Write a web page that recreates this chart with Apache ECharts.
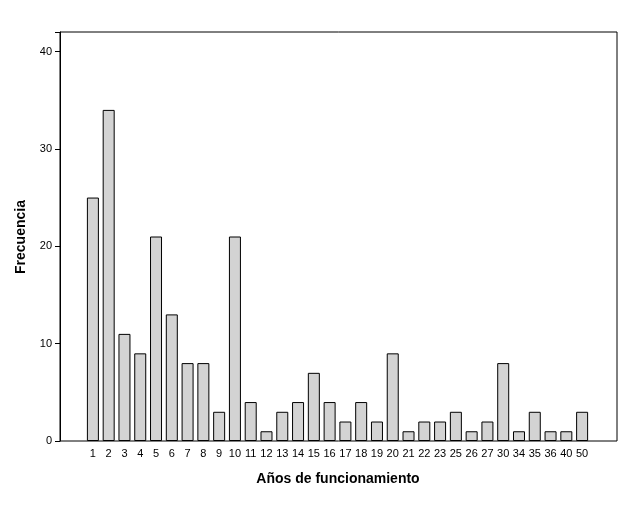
<!DOCTYPE html><html><head><meta charset="utf-8">
<script src="https://cdn.jsdelivr.net/npm/echarts@6/dist/echarts.min.js"></script>
<style>body{margin:0;background:#fff}#c{width:625px;height:526px}</style></head><body><div id="c"></div>
<script>
const categories=['1','2','3','4','5','6','7','8','9','10','11','12','13','14','15','16','17','18','19','20','21','22','23','25','26','27','30','34','35','36','40','50'];
const values=[25,34,11,9,21,13,8,8,3,21,4,1,3,4,7,4,2,4,2,9,1,2,2,3,1,2,8,1,3,1,1,3];
const yTicks=[0,10,20,30,40];
const ch=echarts.init(document.getElementById('c'));
const f='Arial, "Liberation Sans", sans-serif';
ch.setOption({
 animation:false,
 grid:{left:85,right:35,top:32,bottom:85},
 xAxis:{type:'category',data:categories,axisLine:{show:false},
  axisTick:{alignWithLabel:true,length:5,lineStyle:{color:'#000'}},
  axisLabel:{color:'#000',fontSize:11,fontFamily:f,margin:7,interval:0}},
 yAxis:{type:'value',min:0,max:42,interval:10,offset:25,
  axisLine:{show:true,lineStyle:{color:'#000'}},axisTick:{show:true,length:5,lineStyle:{color:'#000'}},
  splitLine:{show:false},
  axisLabel:{color:'#000',fontSize:11,fontFamily:f,formatter:v=>yTicks.includes(v)?String(v):''}},
 series:[{type:'bar',data:values,barWidth:12,itemStyle:{color:'#d3d3d3',borderColor:'#000',borderWidth:1}}],
 graphic:[
  {type:'rect',shape:{x:60,y:32,width:557,height:409},style:{fill:'none',stroke:'#000',lineWidth:1},z:10},
  {type:'text',x:338,y:472,style:{text:'Años de funcionamiento',fontSize:14,fontWeight:'bold',fontFamily:f,fill:'#000',textAlign:'center'}},
  {type:'text',x:14,y:237,rotation:Math.PI/2,style:{text:'Frecuencia',fontSize:14,fontWeight:'bold',fontFamily:f,fill:'#000',textAlign:'center',textVerticalAlign:'top'}}
 ]
});
</script></body></html>
